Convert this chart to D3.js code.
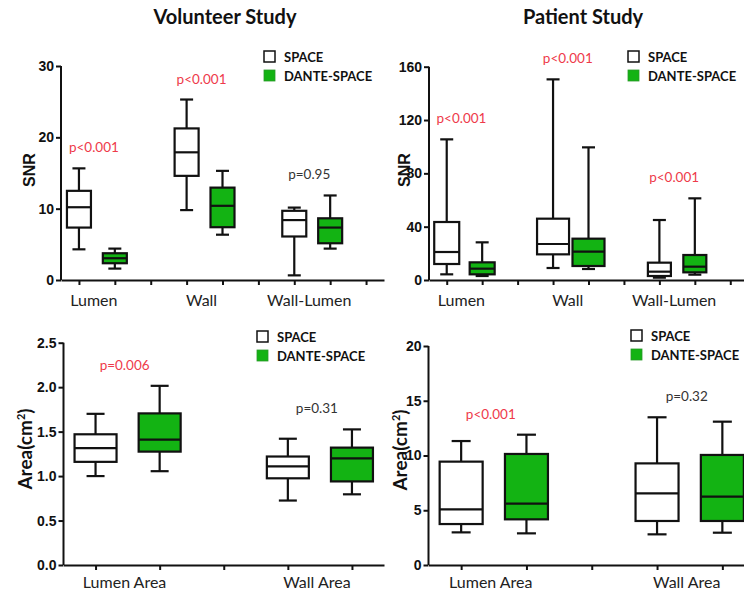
<!DOCTYPE html>
<html>
<head>
<meta charset="utf-8">
<script src="https://cdn.jsdelivr.net/npm/d3@7"></script>
<style>
  body { margin: 0; background: #fff; }
  svg { display: block; }
  .axis path, .axis line { stroke: #111; stroke-width: 2px; }
  .ytick text { font-family: "Liberation Sans", Arial, sans-serif; font-weight: bold; font-size: 14px; fill: #111; }
  .cat { font-family: Lato, sans-serif; font-size: 16px; fill: #222; }
  .title { font-family: Lato, sans-serif; font-weight: bold; font-size: 20px; fill: #111; }
  .leg { font-family: Lato, sans-serif; font-weight: bold; font-size: 13px; fill: #111; }
  .pval { font-family: Lato, sans-serif; font-size: 13.5px; }
</style>
</head>
<body>
<svg id="chart" width="744" height="597"></svg>
<script>
// box stats are [min, q1, median, q3, max]
const snrGroups = ["Lumen", "Wall", "Wall-Lumen"];
const areaGroups = ["Lumen Area", "Wall Area"];
const seriesNames = ["SPACE", "DANTE-SPACE"];

const volSnrSpace = [[4.3, 7.35, 10.2, 12.5, 15.65], [9.8, 14.6, 17.9, 21.25, 25.3], [0.65, 6.1, 8.4, 9.7, 10.15]];
const volSnrDante = [[1.6, 2.35, 3.05, 3.75, 4.4], [6.35, 7.4, 10.4, 12.95, 15.3], [4.4, 5.15, 7.35, 8.65, 11.85]];
const volSnrP = ["p<0.001", "p<0.001", "p=0.95"];

const patSnrSpace = [[4.25, 12, 21, 43.5, 105.5], [9, 19.25, 27, 46, 150.5], [1.75, 3, 6.25, 13, 45]];
const patSnrDante = [[3, 4.25, 8.5, 13.25, 28.25], [8.25, 10.5, 21.25, 31, 99.5], [4, 5.75, 10, 18.75, 61.25]];
const patSnrP = ["p<0.001", "p<0.001", "p<0.001"];

const volAreaSpace = [[1.0, 1.16, 1.315, 1.47, 1.7], [0.725, 0.975, 1.11, 1.22, 1.42]];
const volAreaDante = [[1.055, 1.275, 1.41, 1.705, 2.015], [0.795, 0.94, 1.2, 1.32, 1.525]];
const volAreaP = ["p=0.006", "p=0.31"];

const patAreaSpace = [[2.98, 3.74, 5.08, 9.44, 11.32], [2.8, 4.02, 6.54, 9.28, 13.49]];
const patAreaDante = [[2.89, 4.17, 5.6, 10.14, 11.9], [2.95, 4.02, 6.24, 10.05, 13.09]];
const patAreaP = ["p<0.001", "p=0.32"];

const volSnrTicks = [0, 10, 20, 30];
const patSnrTicks = [0, 40, 80, 120, 160];
const volAreaTicks = [0, 0.5, 1.0, 1.5, 2.0, 2.5];
const patAreaTicks = [0, 5, 10, 15, 20];

const GREEN = "#13b313";
const RED = "#ee3a4a";

const svg = d3.select("#chart");

// titles
svg.append("text").attr("class", "title").attr("x", 225).attr("y", 24)
  .attr("text-anchor", "middle").text("Volunteer Study");
svg.append("text").attr("class", "title").attr("x", 583).attr("y", 24)
  .attr("text-anchor", "middle").text("Patient Study");

function drawPanel(p) {
  const g = svg.append("g");

  // each group takes 3 slots: SPACE, DANTE-SPACE and a gap tick
  const x = d3.scalePoint().domain(d3.range(p.nSlots)).range([p.left, p.right]).padding(0.5);
  const y = d3.scaleLinear().domain([0, p.max]).range([p.bottom, p.top]);

  // x axis
  g.append("g").attr("class", "axis")
    .attr("transform", `translate(0,${p.bottom})`)
    .call(d3.axisBottom(x).tickSize(5).tickSizeOuter(0).tickFormat(""));

  // y axis
  const ya = g.append("g").attr("class", "axis ytick")
    .attr("transform", `translate(${p.left},0)`)
    .call(d3.axisLeft(y).tickValues(p.ticks).tickSize(5).tickSizeOuter(0).tickPadding(2)
      .tickFormat(p.fmt));
  ya.select(".domain").attr("d", `M0,${p.bottom}V${p.top}`);

  // y label
  g.append("text")
    .attr("transform", `translate(${p.ylabX},${p.ylabY}) rotate(-90)`)
    .attr("text-anchor", "middle")
    .style("font-family", p.ylabFont)
    .style("font-weight", "bold")
    .style("font-size", p.ylabSize + "px")
    .style("fill", "#111")
    .html(p.ylab);

  p.groups.forEach((name, gi) => {
    const stats = [p.space[gi], p.dante[gi]];
    const bw = Array.isArray(p.boxW) ? p.boxW[gi] : p.boxW;
    stats.forEach((s, si) => {
      const cx = x(gi * 3 + si);
      const fill = si === 0 ? "#fff" : GREEN;
      const bg = g.append("g").attr("stroke", "#111").attr("stroke-width", 2.2);
      // whiskers
      bg.append("line").attr("x1", cx).attr("x2", cx).attr("y1", y(s[4])).attr("y2", y(s[3]));
      bg.append("line").attr("x1", cx).attr("x2", cx).attr("y1", y(s[1])).attr("y2", y(s[0]));
      bg.append("line").attr("x1", cx - p.capW / 2).attr("x2", cx + p.capW / 2).attr("y1", y(s[4])).attr("y2", y(s[4]));
      bg.append("line").attr("x1", cx - p.capW / 2).attr("x2", cx + p.capW / 2).attr("y1", y(s[0])).attr("y2", y(s[0]));
      // box
      bg.append("rect").attr("x", cx - bw / 2).attr("width", bw)
        .attr("y", y(s[3])).attr("height", y(s[1]) - y(s[3]))
        .attr("fill", fill);
      bg.append("line").attr("x1", cx - bw / 2).attr("x2", cx + bw / 2)
        .attr("y1", y(s[2])).attr("y2", y(s[2]));
    });

    const gc = (x(gi * 3) + x(gi * 3 + 1)) / 2;
    // category label
    g.append("text").attr("class", "cat").attr("x", gc - 3).attr("y", p.catY)
      .attr("text-anchor", "middle").text(name);

    // p value
    const top = y(Math.max(p.space[gi][4], p.dante[gi][4]));
    const pv = p.pvals[gi];
    const sig = +pv.replace(/^p[<=]/, "") < 0.05;
    g.append("text").attr("class", "pval").attr("x", gc - 3).attr("y", top - 16)
      .attr("text-anchor", "middle").style("fill", sig ? RED : "#333").text(pv);
  });

  // legend
  seriesNames.forEach((s, i) => {
    const ly = p.legY + i * 19;
    g.append("rect").attr("x", p.legX).attr("y", ly).attr("width", 11).attr("height", 11)
      .attr("fill", i === 0 ? "#fff" : GREEN)
      .attr("stroke", i === 0 ? "#111" : "#2a9a2a")
      .attr("stroke-width", i === 0 ? 1.5 : 0.8);
    g.append("text").attr("class", "leg").attr("x", p.legX + 20).attr("y", ly + 11).text(s);
  });
}

const areaLabel = "Area(cm<tspan font-size='11' dy='-7'>2</tspan><tspan dy='7'>)</tspan>";

drawPanel({
  groups: snrGroups, space: volSnrSpace, dante: volSnrDante, pvals: volSnrP,
  max: 30, ticks: volSnrTicks, fmt: d3.format("d"), nSlots: 9,
  left: 61, right: 384, top: 66, bottom: 280,
  boxW: 24, capW: 13, catY: 306,
  ylab: "SNR", ylabX: 35, ylabY: 170, ylabFont: "'Liberation Sans', Arial, sans-serif", ylabSize: 16,
  legX: 264, legY: 51
});

drawPanel({
  groups: snrGroups, space: patSnrSpace, dante: patSnrDante, pvals: patSnrP,
  max: 160, ticks: patSnrTicks, fmt: d3.format("d"), nSlots: 9,
  left: 429, right: 748, top: 66.7, bottom: 280,
  boxW: [25, 32, 23], capW: 13, catY: 306,
  ylab: "SNR", ylabX: 410, ylabY: 170, ylabFont: "'Liberation Sans', Arial, sans-serif", ylabSize: 16,
  legX: 628, legY: 51
});

drawPanel({
  groups: areaGroups, space: volAreaSpace, dante: volAreaDante, pvals: volAreaP,
  max: 2.5, ticks: volAreaTicks, fmt: d3.format(".1f"), nSlots: 5,
  left: 63.5, right: 384, top: 342.7, bottom: 565,
  boxW: 42, capW: 18, catY: 588,
  ylab: areaLabel, ylabX: 32, ylabY: 449, ylabFont: "Lato, sans-serif", ylabSize: 19,
  legX: 257, legY: 331
});

drawPanel({
  groups: areaGroups, space: patAreaSpace, dante: patAreaDante, pvals: patAreaP,
  max: 20, ticks: patAreaTicks, fmt: d3.format("d"), nSlots: 5,
  left: 428.5, right: 755, top: 346, bottom: 565,
  boxW: 43, capW: 19, catY: 588,
  ylab: areaLabel, ylabX: 407, ylabY: 450, ylabFont: "Lato, sans-serif", ylabSize: 19,
  legX: 631, legY: 330
});
</script>
</body>
</html>
